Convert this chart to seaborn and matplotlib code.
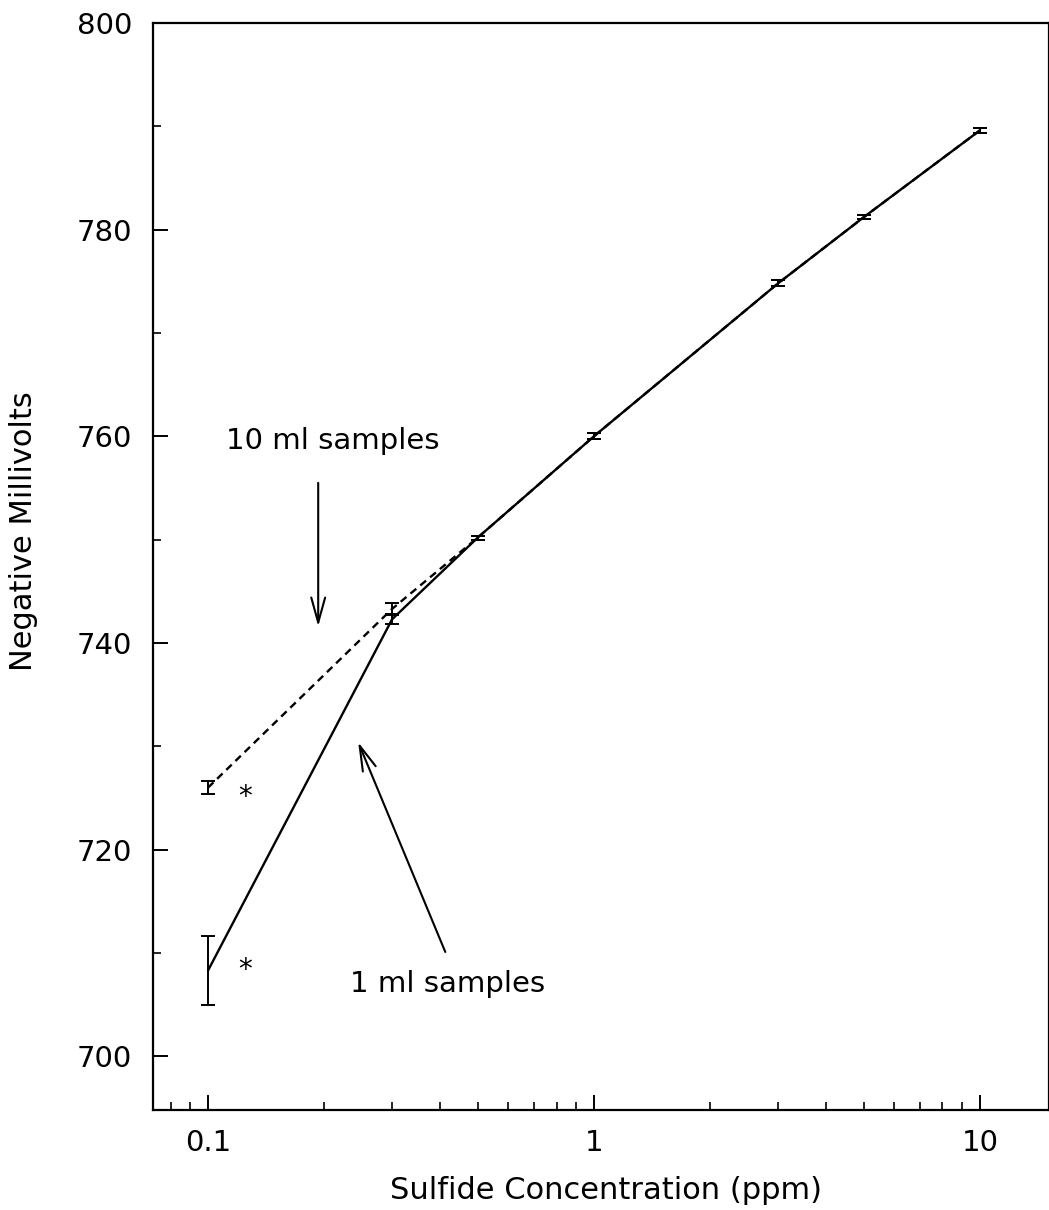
import matplotlib
matplotlib.use("Agg")
import matplotlib.pyplot as plt
import matplotlib.ticker as mticker
import seaborn as sns
import pandas as pd

#-------------------------------------------------------------------------------------------------------------
# Data
#-------------------------------------------------------------------------------------------------------------

CONC = [0.1, 0.3, 0.5, 1, 3, 5, 10]
MV_1ML = [708.3, 742.3, 750.2, 760.0, 774.8, 781.2, 789.6]
ERR_1ML = [3.3, 0.5, 0.2, 0.3, 0.3, 0.2, 0.2]
MV_10ML = [726.0, 743.3, 750.2, 760.0, 774.8, 781.2, 789.6]
ERR_10ML = [0.6, 0.6, 0.2, 0.3, 0.3, 0.2, 0.2]

Y_TICKS = [700, 720, 740, 760, 780, 800]
X_TICKS = [0.1, 1, 10]
X_TICK_LABELS = ['0.1', '1', '10']

#-------------------------------------------------------------------------------------------------------------
# Plot
#-------------------------------------------------------------------------------------------------------------

sns.set_style('white')
plt.rcParams['font.family'] = ['DejaVu Sans']
plt.rcParams['text.color'] = 'black'
plt.rcParams['axes.labelcolor'] = 'black'
plt.rcParams['xtick.color'] = 'black'
plt.rcParams['ytick.color'] = 'black'

df = pd.concat([
    pd.DataFrame({'conc': CONC, 'mv': MV_1ML, 'err': ERR_1ML, 'series': '1 ml'}),
    pd.DataFrame({'conc': CONC, 'mv': MV_10ML, 'err': ERR_10ML, 'series': '10 ml'}),
])

fig = plt.figure(figsize=(10.49, 12.10), dpi=100)
ax = fig.add_axes([0.1458, 0.0826, 0.8541, 0.8984])

sns.lineplot(data=df, x='conc', y='mv', style='series', dashes={'1 ml': '', '10 ml': (3.2, 2.2)},
             color='black', linewidth=1.7, legend=False, errorbar=None, ax=ax, sort=False)

for name, part in df.groupby('series'):
    ax.errorbar(part['conc'], part['mv'], yerr=part['err'], fmt='none', ecolor='black',
                elinewidth=1.4, capsize=5, capthick=1.4)

ax.set_xscale('log')
ax.set_xlim(0.072, 15.1)
ax.set_ylim(694.8, 800)

ax.set_xticks(X_TICKS)
ax.set_xticklabels(X_TICK_LABELS)
ax.xaxis.set_minor_locator(mticker.LogLocator(base=10, subs=range(2, 10)))
ax.xaxis.set_minor_formatter(mticker.NullFormatter())
ax.set_yticks(Y_TICKS)
ax.yaxis.set_minor_locator(mticker.MultipleLocator(10))

ax.tick_params(which='major', direction='in', length=11, width=1.4, labelsize=21, pad=15,
               top=False, right=False, bottom=True, left=True)
ax.tick_params(which='minor', direction='in', length=6, width=1.2,
               top=False, right=False, bottom=True, left=True)
ax.tick_params(axis='x', which='major', pad=14)

for side in ['top', 'right', 'bottom', 'left']:
    ax.spines[side].set_visible(True)
    ax.spines[side].set_color('black')
    ax.spines[side].set_linewidth(1.6)

ax.set_xlabel('Sulfide Concentration (ppm)', fontsize=22)
ax.xaxis.set_label_coords(0.506, -0.074)
ax.xaxis.label.set_va('center')
ax.set_ylabel('Negative Millivolts', fontsize=22)
ax.yaxis.set_label_coords(-0.144, 0.533)
ax.yaxis.label.set_va('center')

# annotations
ax.text(0.1113, 759.5, '10 ml samples', fontsize=21, ha='left', va='center')
ax.text(0.233, 707.0, '1 ml samples', fontsize=21, ha='left', va='center')
ax.text(0.125, 725.1, '*', fontsize=20, ha='center', va='center')
ax.text(0.125, 708.4, '*', fontsize=20, ha='center', va='center')

arrow = dict(arrowstyle='->, head_length=1.8, head_width=0.5', color='black', lw=1.5,
             shrinkA=0, shrinkB=0)
ax.annotate('', xy=(0.193, 741.6), xytext=(0.193, 755.5), arrowprops=arrow)
ax.annotate('', xy=(0.245, 730.4), xytext=(0.412, 710.1), arrowprops=arrow)

fig.savefig('out.png', dpi=100)
